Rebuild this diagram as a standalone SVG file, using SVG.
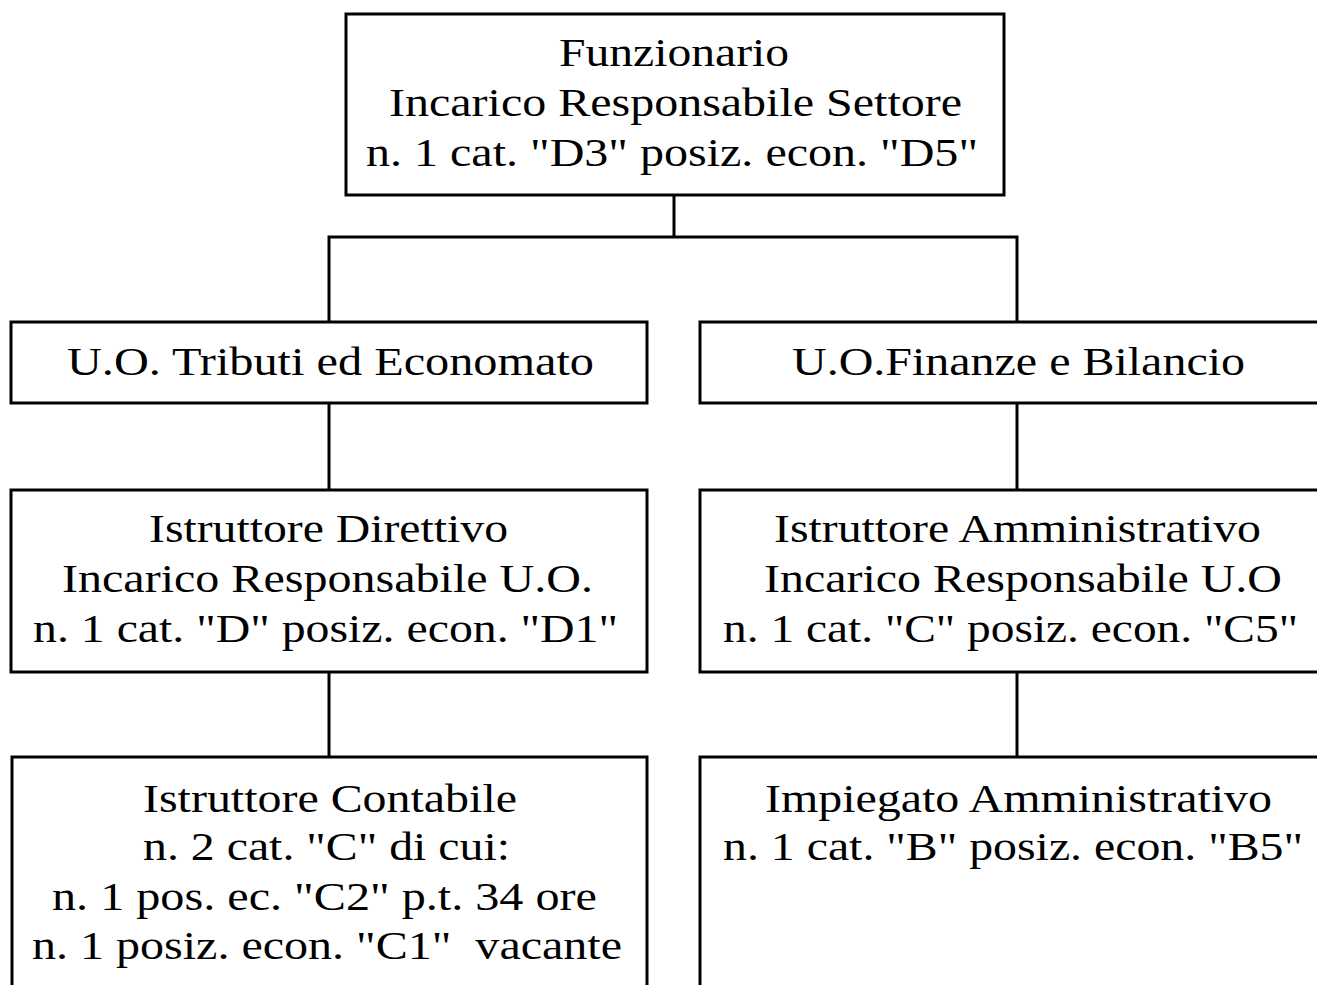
<svg xmlns="http://www.w3.org/2000/svg" width="1317" height="985" viewBox="0 0 1317 985">
<style>
.box{fill:#fff;stroke:#000;stroke-width:3}
.conn{fill:none;stroke:#000;stroke-width:3}
text{font-family:"Liberation Serif","Times New Roman",serif;font-size:39px;fill:#000;white-space:pre}
</style>
<rect width="1317" height="985" fill="#fff"/>
<g id="connectors">
<path class="conn" d="M674 195 V237 M329 322 V237 H1017 V322 M329 403 V490 M1017 403 V490 M329 672 V757 M1017 672 V757"/>
</g>
<g id="n_funzionario">
<rect class="box" x="346" y="14" width="658" height="181"/>
<text x="559" y="66" textLength="230" lengthAdjust="spacingAndGlyphs">Funzionario</text>
<text x="389" y="116" textLength="573" lengthAdjust="spacingAndGlyphs">Incarico Responsabile Settore</text>
<text x="366" y="166" textLength="612" lengthAdjust="spacingAndGlyphs">n. 1 cat. "D3" posiz. econ. "D5"</text>
</g>
<g id="n_tributi">
<rect class="box" x="11" y="322" width="636" height="81"/>
<text x="67" y="375" textLength="527" lengthAdjust="spacingAndGlyphs">U.O. Tributi ed Economato</text>
</g>
<g id="n_finanze">
<rect class="box" x="700" y="322" width="640" height="81"/>
<text x="792" y="375" textLength="453" lengthAdjust="spacingAndGlyphs">U.O.Finanze e Bilancio</text>
</g>
<g id="n_direttivo">
<rect class="box" x="11" y="490" width="636" height="182"/>
<text x="149" y="542" textLength="359" lengthAdjust="spacingAndGlyphs">Istruttore Direttivo</text>
<text x="62" y="592" textLength="531" lengthAdjust="spacingAndGlyphs">Incarico Responsabile U.O.</text>
<text x="33" y="642" textLength="585" lengthAdjust="spacingAndGlyphs">n. 1 cat. "D" posiz. econ. "D1"</text>
</g>
<g id="n_amministrativo">
<rect class="box" x="700" y="490" width="640" height="182"/>
<text x="774" y="542" textLength="487" lengthAdjust="spacingAndGlyphs">Istruttore Amministrativo</text>
<text x="764" y="592" textLength="518" lengthAdjust="spacingAndGlyphs">Incarico Responsabile U.O</text>
<text x="723" y="642" textLength="575" lengthAdjust="spacingAndGlyphs">n. 1 cat. "C" posiz. econ. "C5"</text>
</g>
<g id="n_contabile">
<rect class="box" x="12" y="757" width="635" height="260"/>
<text x="143" y="812" textLength="374" lengthAdjust="spacingAndGlyphs">Istruttore Contabile</text>
<text x="143" y="860" textLength="367" lengthAdjust="spacingAndGlyphs">n. 2 cat. "C" di cui:</text>
<text x="52" y="910" textLength="545" lengthAdjust="spacingAndGlyphs">n. 1 pos. ec. "C2" p.t. 34 ore</text>
<text x="32" y="959" textLength="590" lengthAdjust="spacingAndGlyphs">n. 1 posiz. econ. "C1"  vacante</text>
</g>
<g id="n_impiegato">
<rect class="box" x="700" y="757" width="640" height="260"/>
<text x="765" y="812" textLength="507" lengthAdjust="spacingAndGlyphs">Impiegato Amministrativo</text>
<text x="723" y="860" textLength="580" lengthAdjust="spacingAndGlyphs">n. 1 cat. "B" posiz. econ. "B5"</text>
</g>
</svg>
